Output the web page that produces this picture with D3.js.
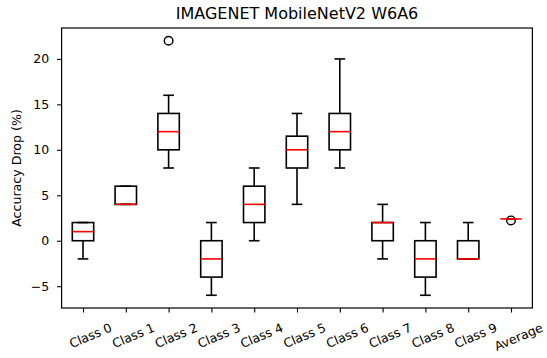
<!DOCTYPE html>
<html>
<head>
<meta charset="utf-8">
<script src="https://cdn.jsdelivr.net/npm/d3@7"></script>
<style>
  html, body { margin: 0; padding: 0; background: #fff; }
  svg { display: block; }
  text { font-family: "DejaVu Sans", sans-serif; fill: #000; }
</style>
</head>
<body>
<svg id="chart" width="547" height="358"></svg>
<script>
// Per-class accuracy drop summaries (five-number summaries per box)
const categories  = ["Class 0", "Class 1", "Class 2", "Class 3", "Class 4", "Class 5",
                     "Class 6", "Class 7", "Class 8", "Class 9", "Average"];
const whiskerLow  = [-2, 4,  8, -6, 0,  4,  8, -2, -6, -2, 2.4];
const q1          = [ 0, 4, 10, -4, 2,  8, 10,  0, -4, -2, 2.4];
const medians     = [ 1, 4, 12, -2, 4, 10, 12,  2, -2, -2, 2.4];
const q3          = [ 2, 6, 14,  0, 6, 11.5, 14, 2,  0,  0, 2.4];
const whiskerHigh = [ 2, 6, 16,  2, 8, 14, 20,  4,  2,  2, 2.4];
// Outlier points: [category index, value]
const outliers    = [[2, 22], [10, 2.23]];
const yTicks      = [-5, 0, 5, 10, 15, 20];

const svg = d3.select("#chart");
const plotLeft = 61.6, plotRight = 532.4, plotTop = 28, plotBottom = 308;

const x = d3.scaleLinear().domain([0.5, categories.length + 0.5]).range([plotLeft, plotRight]);
const y = d3.scaleLinear().domain([-7.4, 23.4]).range([plotBottom, plotTop]);

const boxW = x(1.5) - x(1);      // half a category wide
const capW = boxW / 2;
const lw = 1.6;
const tickFont = "12.5px";

const data = categories.map((c, i) => ({
  c, pos: i + 1,
  lo: whiskerLow[i], q1: q1[i], med: medians[i], q3: q3[i], hi: whiskerHigh[i]
}));

const g = svg.append("g");
const boxes = g.selectAll("g.box").data(data).enter().append("g").attr("class", "box");

// whiskers
boxes.append("line")
  .attr("x1", d => x(d.pos)).attr("x2", d => x(d.pos))
  .attr("y1", d => y(d.lo)).attr("y2", d => y(d.q1))
  .attr("stroke", "#000").attr("stroke-width", lw);
boxes.append("line")
  .attr("x1", d => x(d.pos)).attr("x2", d => x(d.pos))
  .attr("y1", d => y(d.q3)).attr("y2", d => y(d.hi))
  .attr("stroke", "#000").attr("stroke-width", lw);
// caps
boxes.append("line")
  .attr("x1", d => x(d.pos) - capW / 2).attr("x2", d => x(d.pos) + capW / 2)
  .attr("y1", d => y(d.lo)).attr("y2", d => y(d.lo))
  .attr("stroke", "#000").attr("stroke-width", lw);
boxes.append("line")
  .attr("x1", d => x(d.pos) - capW / 2).attr("x2", d => x(d.pos) + capW / 2)
  .attr("y1", d => y(d.hi)).attr("y2", d => y(d.hi))
  .attr("stroke", "#000").attr("stroke-width", lw);
// box
boxes.append("rect")
  .attr("x", d => x(d.pos) - boxW / 2)
  .attr("y", d => y(d.q3))
  .attr("width", boxW)
  .attr("height", d => y(d.q1) - y(d.q3))
  .attr("fill", "none").attr("stroke", "#000").attr("stroke-width", lw);

// outliers
g.selectAll("circle.flier").data(outliers).enter().append("circle")
  .attr("class", "flier")
  .attr("cx", d => x(d[0] + 1)).attr("cy", d => y(d[1]))
  .attr("r", 4.3)
  .attr("fill", "none").attr("stroke", "#000").attr("stroke-width", 1.4);

// medians, drawn on top
g.selectAll("line.median").data(data).enter().append("line")
  .attr("class", "median")
  .attr("x1", d => x(d.pos) - boxW / 2).attr("x2", d => x(d.pos) + boxW / 2)
  .attr("y1", d => y(d.med)).attr("y2", d => y(d.med))
  .attr("stroke", "#ff0000").attr("stroke-width", lw);

// axes
const yAxis = d3.axisLeft(y).tickValues(yTicks).tickSize(4.5).tickPadding(8)
  .tickFormat(d3.format("d"));
const yg = svg.append("g").attr("transform", `translate(${plotLeft},0)`).call(yAxis);
yg.select(".domain").remove();
yg.selectAll("line").attr("stroke-width", 1.1);
yg.selectAll("text").style("font-size", tickFont);

const xAxis = d3.axisBottom(x).tickValues(data.map(d => d.pos)).tickSize(4.5)
  .tickFormat(d => categories[d - 1]);
const xg = svg.append("g").attr("transform", `translate(0,${plotBottom})`).call(xAxis);
xg.select(".domain").remove();
xg.selectAll("line").attr("stroke-width", 1.1);
const rot = 23;
const ang = rot * Math.PI / 180;
xg.selectAll("text")
  .style("font-size", tickFont)
  .attr("dy", null)
  .attr("text-anchor", "middle")
  .attr("dominant-baseline", "central")
  .each(function () {
    const bb = this.getBBox();
    const h = 13.5;
    const hh = bb.width * Math.sin(ang) + h * Math.cos(ang);
    d3.select(this).attr("y", null)
      .attr("transform", `translate(7,${12.5 + hh / 2}) rotate(${-rot})`);
  });

// frame
svg.append("rect")
  .attr("x", plotLeft).attr("y", plotTop)
  .attr("width", plotRight - plotLeft).attr("height", plotBottom - plotTop)
  .attr("fill", "none").attr("stroke", "#000").attr("stroke-width", 1.2);

// title and axis label
svg.append("text")
  .attr("x", (plotLeft + plotRight) / 2).attr("y", 18.5)
  .attr("text-anchor", "middle")
  .style("font-size", "16px")
  .text("IMAGENET MobileNetV2 W6A6");

svg.append("text")
  .attr("transform", `translate(20.5,${(plotTop + plotBottom) / 2}) rotate(-90)`)
  .attr("text-anchor", "middle")
  .style("font-size", "12.6px")
  .text("Accuracy Drop (%)");
</script>
</body>
</html>
